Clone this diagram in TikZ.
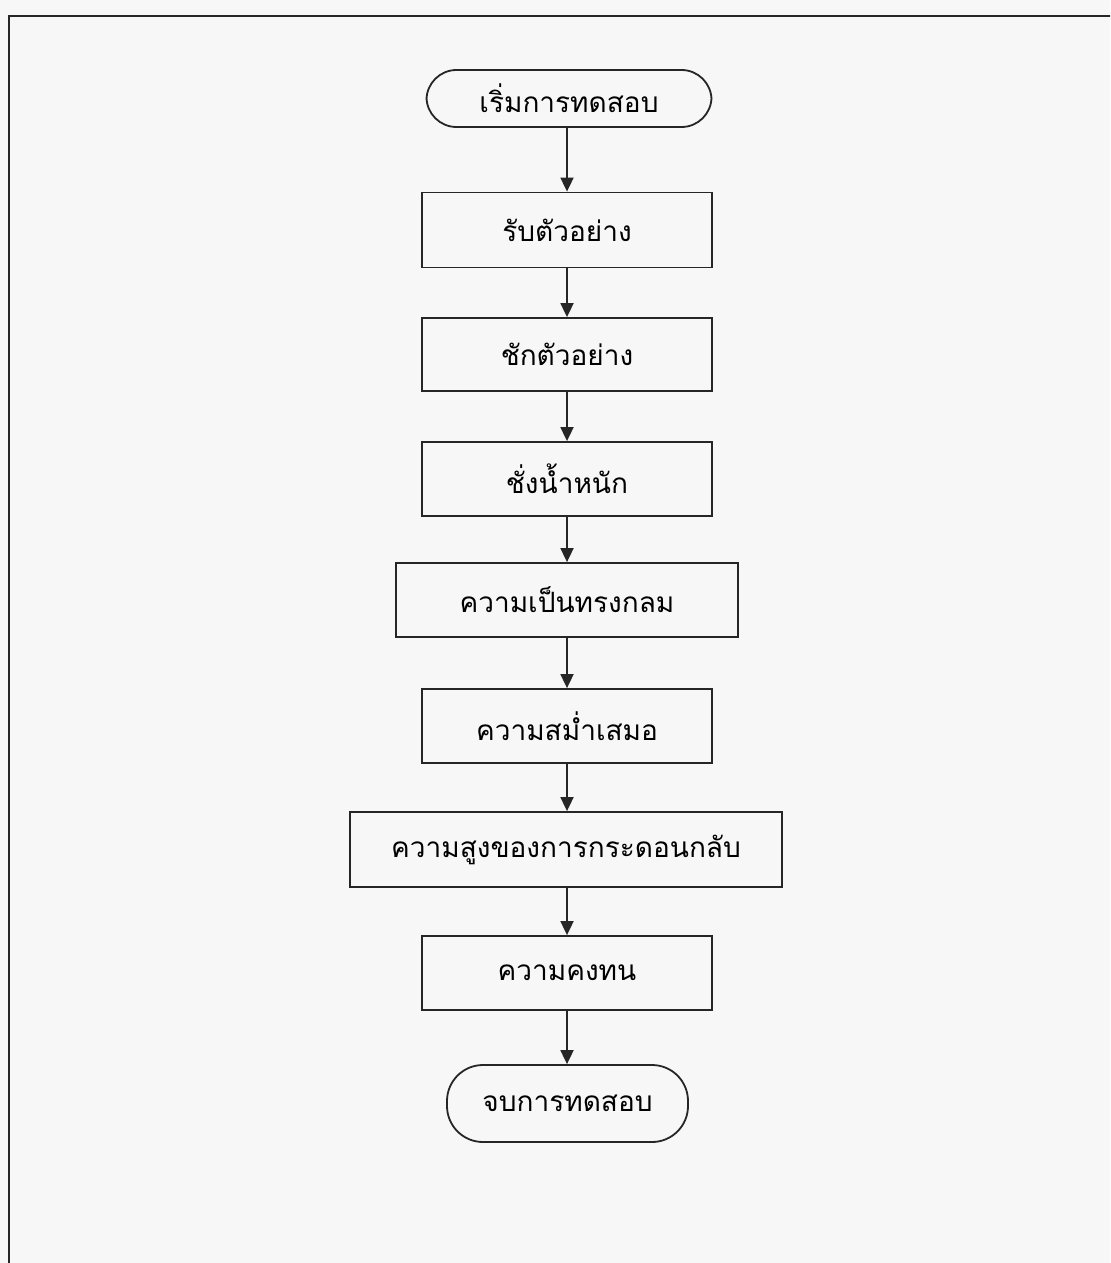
\documentclass[tikz,border=0pt]{standalone}
\usepackage{fontspec}
\newfontfamily\thaifont[Script=Thai]{Loma}
\usetikzlibrary{arrows.meta}
\begin{document}
\begin{tikzpicture}[x=0.5pt,y=-0.5pt,
  every node/.style={font=\thaifont\fontsize{14}{16}\selectfont, inner sep=0pt},
  stepbox/.style={draw=black!85, line width=0.9pt, rectangle},
  termbox/.style={draw=black!85, line width=0.9pt, rectangle, rounded corners=15pt},
  flow/.style={draw=black!85, line width=0.9pt, -{Triangle[length=7pt,width=6.5pt]}}]
\useasboundingbox (0,0) rectangle (1110,1263);
\fill[black!3] (0,0) rectangle (1110,1263);
\begin{scope}
\clip (0,0) rectangle (1110,1263);
\draw[black!85, line width=1.1pt] (9,16) rectangle (1140,1300);
\end{scope}
\node[termbox, minimum width=142.5pt, minimum height=28.5pt] (start) at (569,98.5) {เริ่มการทดสอบ};
\node[stepbox, minimum width=145pt, minimum height=37.5pt] (b1) at (567,230) {รับตัวอย่าง};
\node[stepbox, minimum width=145pt, minimum height=36.5pt] (b2) at (567,354.5) {ชักตัวอย่าง};
\node[stepbox, minimum width=145pt, minimum height=37pt] (b3) at (567,479) {ชั่งน้ำหนัก};
\node[stepbox, minimum width=171pt, minimum height=37pt] (b4) at (567,600) {ความเป็นทรงกลม};
\node[stepbox, minimum width=145pt, minimum height=37pt] (b5) at (567,726) {ความสม่ำเสมอ};
\node[stepbox, minimum width=216pt, minimum height=37.5pt] (b6) at (566,849.5) {ความสูงของการกระดอนกลับ};
\node[stepbox, minimum width=145pt, minimum height=37pt] (b7) at (567,973) {ความคงทน};
\node[termbox, minimum width=120.5pt, minimum height=38.5pt, rounded corners=18pt] (end) at (567.5,1103.5) {จบการทดสอบ};
\draw[flow] (start.south -| b1.north) -- (b1.north);
\draw[flow] (b1) -- (b2);
\draw[flow] (b2) -- (b3);
\draw[flow] (b3.south) -- (b3.south |- b4.north);
\draw[flow] (b4.south) -- (b4.south |- b5.north);
\draw[flow] (b5.south) -- (b5.south |- b6.north);
\draw[flow] (b6.south -| b7.north) -- (b7.north);
\draw[flow] (b7.south) -- (b7.south |- end.north);
\end{tikzpicture}
\end{document}
